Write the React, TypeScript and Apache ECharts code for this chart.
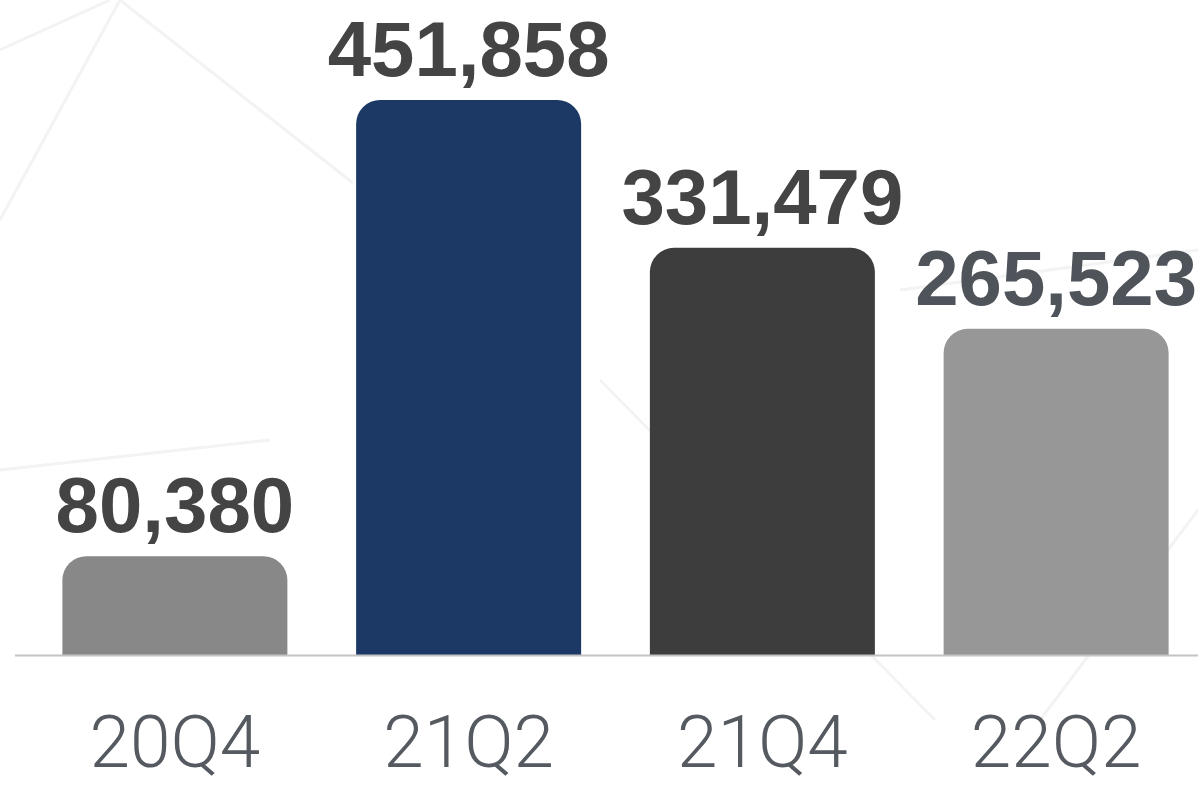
import React, { useEffect, useRef } from "react";
import * as echarts from "echarts";

const categories = ["20Q4", "21Q2", "21Q4", "22Q2"];
const values = [80380, 451858, 331479, 265523];
const barColors = ["#888888", "#1c3966", "#3d3d3d", "#979797"];
const labelColors = ["#444444", "#444444", "#444444", "#4f545b"];

export default function App() {
  const ref = useRef<HTMLDivElement>(null);
  useEffect(() => {
    document.body.style.margin = "0";
    const chart = echarts.init(ref.current!, null, { renderer: "svg" });
    const faint = { stroke: "#f3f3f3", lineWidth: 3 };
    const bgLines = [
      [120, 0, 0, 220],
      [120, 0, 353, 183],
      [0, 50, 110, 0],
      [600, 380, 935, 720],
      [1198, 510, 1040, 720],
      [0, 470, 270, 440],
      [900, 290, 1198, 250],
    ];
    chart.setOption({
      animation: false,
      backgroundColor: "#ffffff",
      graphic: [
        ...bgLines.map(([x1, y1, x2, y2]) => ({
          type: "line",
          z: -10,
          silent: true,
          shape: { x1, y1, x2, y2 },
          style: faint,
        })),
        {
          type: "line",
          z: 10,
          shape: { x1: 15, y1: 655.5, x2: 1198, y2: 655.5 },
          style: { stroke: "#c4c4c4", lineWidth: 2 },
        },
      ],
      grid: { left: 28, right: 0, top: 100, bottom: 132, containLabel: false },
      xAxis: {
        type: "category",
        data: categories,
        axisLine: { show: false },
        axisTick: { show: false },
        axisLabel: {
          margin: 57,
          fontFamily: "Roboto",
          fontWeight: 300,
          fontSize: 73,
          lineHeight: 60,
          color: "#555a60",
        },
      },
      yAxis: {
        type: "value",
        min: 0,
        max: 451858,
        show: false,
        splitLine: { show: false },
      },
      series: [
        {
          type: "bar",
          barWidth: 225,
          data: values.map((v, i) => ({
            value: v,
            itemStyle: { color: barColors[i], borderRadius: [24, 24, 0, 0] },
            label: { color: labelColors[i] },
          })),
          label: {
            show: true,
            position: "top",
            distance: 12,
            fontFamily: "Liberation Sans",
            fontWeight: "bold",
            fontSize: 78,
            formatter: (p: any) => p.value.toLocaleString("en-US"),
          },
        },
      ],
    });
    return () => chart.dispose();
  }, []);
  return (
    <div style={{ width: 1198, height: 787, overflow: "hidden", position: "relative" }}>
      <div ref={ref} style={{ width: 1203, height: 787 }} />
    </div>
  );
}
